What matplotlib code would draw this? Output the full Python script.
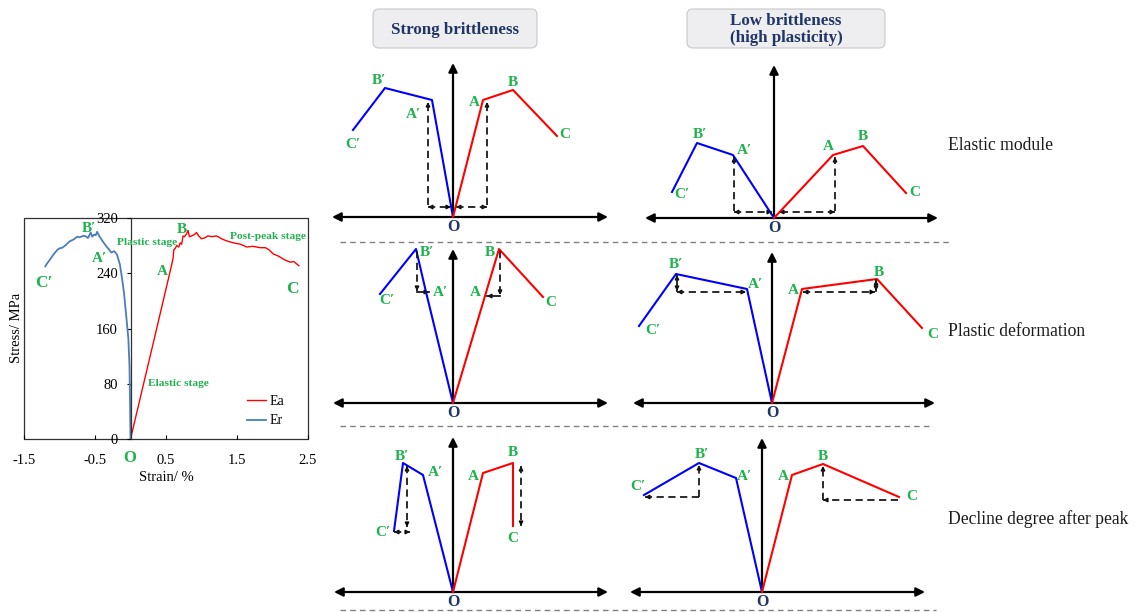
import matplotlib
matplotlib.use("Agg")
import matplotlib.pyplot as plt
from matplotlib.patches import FancyBboxPatch, Rectangle

plt.rcParams["font.family"] = ["Liberation Serif", "DejaVu Serif"]

# ---------------------------------------------------------------- data
# measured stress-strain curves (axial Ea, radial Er)
strain_ea = [0, 0.3, 0.575, 0.6, 0.61, 0.63, 0.65, 0.68, 0.7, 0.72, 0.74, 0.76,
             0.79, 0.81, 0.83, 0.86, 0.9, 0.93, 0.96, 1.0, 1.04, 1.09, 1.15,
             1.21, 1.25, 1.28, 1.35, 1.45, 1.55, 1.64, 1.72, 1.83, 1.9, 1.95,
             2.01, 2.08, 2.16, 2.25, 2.3, 2.37]
stress_ea = [0, 130, 250, 262, 274, 276, 280, 278, 284, 282, 294, 293,
             297, 302, 293, 294, 296, 299, 294, 290, 291, 294, 293,
             294, 292, 290, 287, 284, 282, 278, 279, 277, 277, 274,
             268, 265, 260, 256, 257, 251]
strain_er = [0, -0.005, -0.014, -0.03, -0.06, -0.09, -0.11, -0.13, -0.15,
             -0.19, -0.23, -0.27, -0.3, -0.34, -0.39, -0.44, -0.47, -0.49,
             -0.51, -0.54, -0.56, -0.6, -0.64, -0.67, -0.72, -0.75, -0.8,
             -0.86, -0.91, -0.96, -1.0, -1.03, -1.07, -1.1, -1.14, -1.17, -1.2]
stress_er = [0, 40, 105, 145, 178, 210, 226, 240, 253,
             267, 272, 270, 274, 279, 286, 294, 300, 295,
             296, 293, 299, 291, 294, 294, 292, 293, 289,
             286, 281, 277, 276, 274, 269, 265, 259, 255, 250]
strain_ticks = [-1.5, -0.5, 0.5, 1.5, 2.5]
stress_ticks = [0, 80, 160, 240, 320]

# schematic curves: points (C', B', A', O) on the radial side and
# (O, A, B, C) on the axial side, as (strain, stress) in sketch units
strong_elastic_blue = [(-100, 87), (-68, 129), (-21, 117), (0, 0)]
strong_elastic_red = [(0, 0), (30, 117), (60, 127), (104, 81)]
low_elastic_blue = [(-102, 26), (-77, 75), (-41, 63), (0, 0)]
low_elastic_red = [(0, 0), (59, 63), (89, 72), (132, 25)]
strong_plastic_blue = [(-73, 109), (-37, 154), (-27, 111), (0, 0)]
strong_plastic_red = [(0, 0), (32, 107), (46, 154), (90, 106)]
low_plastic_blue = [(-133, 77), (-96, 129), (-25, 114), (0, 0)]
low_plastic_red = [(0, 0), (30, 114), (105, 124), (150, 75)]
strong_decline_blue = [(-59, 61), (-50, 129), (-30, 117), (0, 0)]
strong_decline_red = [(0, 0), (30, 119), (60, 129), (60, 66)]
low_decline_blue = [(-118, 97), (-63, 129), (-26, 114), (0, 0)]
low_decline_red = [(0, 0), (30, 117), (61, 128), (137, 95)]

column_titles = ["Strong brittleness", "Low brittleness\n(high plasticity)"]
row_titles = ["Elastic module", "Plastic deformation", "Decline degree after peak"]

# ---------------------------------------------------------------- style
W, H = 1143, 612
GREEN = "#1eb34c"
NAVY = "#1f3566"
BLUE = "#0000ff"
RED = "#ff0000"
ER_BLUE = "#4a7ebb"

fig = plt.figure(figsize=(W / 100, H / 100), dpi=100)

# full-figure layer for boxes, separators and row captions (pixel units)
ov = fig.add_axes([0, 0, 1, 1], zorder=0)
ov.set_xlim(0, W)
ov.set_ylim(H, 0)
ov.axis("off")

for y, x1 in [(242, 950), (426, 932), (610, 936)]:
    ov.plot([340, x1], [y, y], color="#808080", lw=1.0, ls=(0, (4, 3)))

for (bx, by, bw, bh), title in zip([(373, 9, 164, 39), (687, 9, 198, 39)], column_titles):
    ov.add_patch(FancyBboxPatch((bx, by), bw, bh,
                                boxstyle="round,pad=0,rounding_size=6",
                                fc="#eeeef0", ec="#c8c8c8", lw=0.8))
    ov.text(bx + bw / 2, by + bh / 2 + 1, title, ha="center", va="center",
            fontsize=12.2, fontweight="bold", color=NAVY, linespacing=1.1)

for y, t in zip([146, 331, 519], row_titles):
    ov.text(948, y, t, ha="left", va="center", fontsize=12.7, color="#1a1a1a")

# ---------------------------------------------------------------- stress-strain chart
ax = fig.add_axes([24 / W, (H - 439) / H, 284 / W, 221 / H], zorder=2)
ax.plot(strain_ea, stress_ea, color=RED, lw=1.0, label="Ea")
ax.plot(strain_er, stress_er, color=ER_BLUE, lw=1.3, label="Er")
ax.set_xlim(-1.5, 2.5)
ax.set_ylim(0, 320)
ax.set_xticks(strain_ticks)
ax.set_xticklabels(["-1.5", "-0.5", "0.5", "1.5", "2.5"])
ax.set_yticks(stress_ticks)
for s in ["top", "right", "bottom"]:
    ax.spines[s].set_visible(False)
ax.spines["left"].set_position(("data", 0))
ax.spines["left"].set_color("#303030")
ax.spines["left"].set_linewidth(0.9)
ax.add_patch(Rectangle((0, 0), 1, 1, transform=ax.transAxes, fill=False,
                       ec="#303030", lw=0.9, clip_on=False))
ax.tick_params(axis="y", direction="out", length=3, pad=6, labelsize=10.5)
ax.tick_params(axis="x", direction="in", length=3, pad=11, labelsize=10.5)
ax.set_facecolor("none")
ax.set_xlabel("Strain/ %", fontsize=10.5, labelpad=3)
fig.text(16 / W, 1 - 328 / H, "Stress/ MPa", rotation=90, ha="center",
         va="center", fontsize=10.5)

stage_kw = dict(color=GREEN, fontweight="bold", ha="center", va="center", clip_on=False)
ax.text(-1.22, 226, "C\u2032", fontsize=12.5, **stage_kw)
ax.text(-0.59, 305, "B\u2032", fontsize=11, **stage_kw)
ax.text(-0.44, 262, "A\u2032", fontsize=11, **stage_kw)
ax.text(0.23, 285, "Plastic stage", fontsize=8.2, **stage_kw)
ax.text(0.72, 304, "B", fontsize=11, **stage_kw)
ax.text(0.45, 242, "A", fontsize=11, **stage_kw)
ax.text(1.94, 293, "Post-peak stage", fontsize=8.2, **stage_kw)
ax.text(2.28, 217, "C", fontsize=12.5, **stage_kw)
ax.text(0.68, 80, "Elastic stage", fontsize=8.2, **stage_kw)
ax.text(-0.01, -27, "O", fontsize=12, **stage_kw)
ax.legend(loc="center left", bbox_to_anchor=(1.55, 40), bbox_transform=ax.transData,
          frameon=False, fontsize=10, handlelength=1.3, handletextpad=0.3,
          labelspacing=0.45, borderpad=0)

# ---------------------------------------------------------------- schematics
AX_KW = dict(color="black", lw=1.6, shrinkA=0, shrinkB=0, mutation_scale=13)


def panel(origin, left, right, top):
    ox, oy = origin
    p = fig.add_axes([left / W, (H - oy) / H, (right - left) / W, (oy - top) / H], zorder=3)
    p.set_xlim(left - ox, right - ox)
    p.set_ylim(0, oy - top)
    p.axis("off")
    p.annotate("", xy=(right - ox, 0), xytext=(left - ox, 0),
               arrowprops=dict(arrowstyle="<|-|>", **AX_KW), annotation_clip=False)
    p.annotate("", xy=(0, oy - top), xytext=(0, 0),
               arrowprops=dict(arrowstyle="-|>", **AX_KW), annotation_clip=False)
    p.text(0, -10, "O", ha="center", va="center", fontsize=11.5,
           fontweight="bold", color=NAVY, clip_on=False)
    return p


def curves(p, blue, red, offsets):
    p.plot(*zip(*blue), color=BLUE, lw=1.5, clip_on=False, zorder=4)
    p.plot(*zip(*red), color=RED, lw=1.5, clip_on=False, zorder=4)
    named = dict(zip(["C\u2032", "B\u2032", "A\u2032"], blue[:3]))
    named.update(zip(["A", "B", "C"], red[1:]))
    for name, (dx, dy) in offsets.items():
        x, y = named[name]
        p.text(x + dx, y + dy, name, ha="center", va="center", fontsize=11,
               fontweight="bold", color=GREEN, clip_on=False)


def head(p, x, y, ux, uy):
    p.annotate("", xy=(x, y), xytext=(x - ux * 4, y - uy * 4),
               arrowprops=dict(arrowstyle="-|>", color="black", lw=1.0,
                               mutation_scale=6, shrinkA=0, shrinkB=0),
               annotation_clip=False)


def guide(p, a, b, start=False, end=True, dashed=True):
    p.plot([a[0], b[0]], [a[1], b[1]], color="#1a1a1a", lw=1.3,
           ls=(0, (4, 2.5)) if dashed else "-", clip_on=False, zorder=5)
    dx, dy = b[0] - a[0], b[1] - a[1]
    n = (dx * dx + dy * dy) ** 0.5
    ux, uy = dx / n, dy / n
    if end:
        head(p, b[0], b[1], ux, uy)
    if start:
        head(p, a[0], a[1], -ux, -uy)


# Strong brittleness / elastic module
p = panel((453, 217), 332, 608, 63)
curves(p, strong_elastic_blue, strong_elastic_red,
       {"C\u2032": (0, -14), "B\u2032": (-6, 8), "A\u2032": (-19, -15),
        "A": (-9, -2), "B": (0, 8), "C": (8, 2)})
ap, a = strong_elastic_blue[2], strong_elastic_red[1]
guide(p, (ap[0] - 4, 12), (ap[0] - 4, ap[1] - 2))
guide(p, (ap[0] - 4, 10), (-2, 10), start=True)
guide(p, (a[0] + 4, 12), (a[0] + 4, a[1] - 2))
guide(p, (a[0] + 4, 10), (3, 10), start=True)

# Low brittleness / elastic module
p = panel((774, 218), 645, 938, 65)
curves(p, low_elastic_blue, low_elastic_red,
       {"C\u2032": (10, -3), "B\u2032": (3, 8), "A\u2032": (11, 5),
        "A": (-5, 8), "B": (0, 9), "C": (9, 1)})
ap, a = low_elastic_blue[2], low_elastic_red[1]
guide(p, (ap[0] + 1, 7), (ap[0] + 1, ap[1] - 2))
guide(p, (ap[0] + 1, 6), (-2, 6), start=True)
guide(p, (a[0] + 2, 7), (a[0] + 2, a[1] - 2))
guide(p, (a[0] + 2, 6), (5, 6), start=True)

# Strong brittleness / plastic deformation
p = panel((453, 403), 333, 608, 249)
curves(p, strong_plastic_blue, strong_plastic_red,
       {"C\u2032": (7, -6), "B\u2032": (11, -4), "A\u2032": (14, 0),
        "A": (-10, 4), "B": (-9, -3), "C": (8, -5)})
bp, ap = strong_plastic_blue[1], strong_plastic_blue[2]
b, a = strong_plastic_red[2], strong_plastic_red[1]
guide(p, (bp[0] + 1, bp[1] - 2), (bp[0] + 1, ap[1] + 1))
guide(p, (bp[0] + 1, ap[1]), (ap[0] + 3, ap[1]), dashed=False)
guide(p, (b[0] + 1, b[1] - 2), (b[0] + 1, a[1] + 1))
guide(p, (b[0] + 1, a[1]), (a[0] + 2, a[1]), dashed=False)

# Low brittleness / plastic deformation
p = panel((772, 403), 633, 935, 252)
curves(p, low_plastic_blue, low_plastic_red,
       {"C\u2032": (14, -4), "B\u2032": (0, 9), "A\u2032": (8, 4),
        "A": (-9, -1), "B": (2, 7), "C": (11, -7)})
bp, ap = low_plastic_blue[1], low_plastic_blue[2]
a, b = low_plastic_red[1], low_plastic_red[2]
guide(p, (bp[0] + 1, bp[1] - 1), (bp[0] + 1, ap[1] - 2), start=True, dashed=False)
guide(p, (bp[0] + 1, ap[1] - 3), (ap[0] - 1, ap[1] - 3), start=True)
guide(p, (a[0] + 1, a[1] - 3), (b[0] - 2, a[1] - 3), start=True)
guide(p, (b[0] - 1, b[1] - 1), (b[0] - 1, a[1] - 2), start=True, dashed=False)

# Strong brittleness / decline after peak
p = panel((453, 592), 334, 608, 437)
curves(p, strong_decline_blue, strong_decline_red,
       {"C\u2032": (-11, -2), "B\u2032": (-1, 6), "A\u2032": (12, 2),
        "A": (-10, -4), "B": (0, 10), "C": (0, -12)})
bp, cp = strong_decline_blue[1], strong_decline_blue[0]
b, c = strong_decline_red[2], strong_decline_red[3]
guide(p, (bp[0] + 4, bp[1] - 3), (bp[0] + 4, cp[1] + 4), start=True)
guide(p, (cp[0], cp[1] - 1), (bp[0] + 7, cp[1] - 1), start=True)
guide(p, (b[0] + 8, b[1] - 3), (b[0] + 8, c[1]), start=True)

# Low brittleness / decline after peak
p = panel((762, 592), 630, 925, 438)
curves(p, low_decline_blue, low_decline_red,
       {"C\u2032": (-6, 8), "B\u2032": (3, 8), "A\u2032": (8, 1),
        "A": (-9, -2), "B": (0, 7), "C": (13, 0)})
bp, cp = low_decline_blue[1], low_decline_blue[0]
b, c = low_decline_red[2], low_decline_red[3]
guide(p, (bp[0], cp[1] - 2), (bp[0], bp[1] - 2))
guide(p, (bp[0], cp[1] - 2), (cp[0] + 1, cp[1] - 2))
guide(p, (b[0], c[1] - 3), (b[0], b[1] - 2))
guide(p, (c[0] - 1, c[1] - 3), (b[0], c[1] - 3))

fig.savefig("out.png", dpi=100)
